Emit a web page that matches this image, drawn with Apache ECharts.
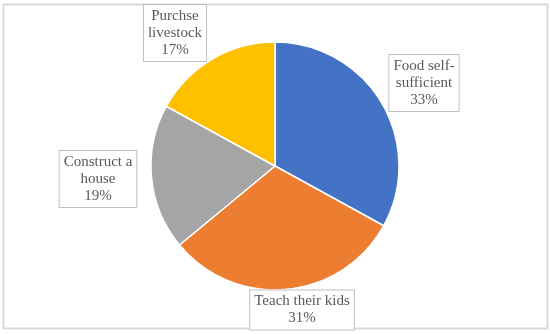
<!DOCTYPE html>
<html>
<head>
<meta charset="utf-8">
<script src="https://cdn.jsdelivr.net/npm/echarts@6/dist/echarts.min.js"></script>
<style>
html,body{margin:0;padding:0;background:#fff;}
#c{width:550px;height:334px;}
</style>
</head>
<body>
<div id="c"></div>
<script>
const categories = ["Food self-\nsufficient", "Teach their kids", "Construct a\nhouse", "Purchse\nlivestock"];
const values = [33, 31, 19, 17];
const colors = ["#4472C4", "#ED7D31", "#A5A5A5", "#FFC000"];
// label box centers (layout only)
const labelPos = [[424, 83], [302, 310], [98, 179], [175, 33]];

const chart = echarts.init(document.getElementById('c'), null, {renderer: 'canvas'});
chart.setOption({
  animation: false,
  graphic: [{
    type: 'rect',
    shape: {x: 3.5, y: 4.5, width: 544, height: 324},
    style: {fill: 'none', stroke: '#d9d9d9', lineWidth: 2},
    z: -10
  }],
  series: [{
    type: 'pie',
    center: [275, 166],
    radius: 124,
    startAngle: 90,
    clockwise: true,
    data: categories.map((n, i) => ({name: n, value: values[i], itemStyle: {color: colors[i]}})),
    itemStyle: {borderColor: '#fff', borderWidth: 1.5},
    label: {
      show: true,
      formatter: '{b}\n{c}%',
      fontFamily: 'Liberation Serif',
      fontSize: 15,
      lineHeight: 17,
      color: '#595959',
      align: 'center',
      backgroundColor: '#fff',
      borderColor: '#bfbfbf',
      borderWidth: 1,
      padding: [3, 4, 2, 4]
    },
    labelLine: {show: false},
    labelLayout: function (p) {
      const pos = labelPos[p.dataIndex];
      return {x: pos[0], y: pos[1], align: 'center', verticalAlign: 'middle'};
    },
    emphasis: {disabled: true}
  }]
});
</script>
</body>
</html>
